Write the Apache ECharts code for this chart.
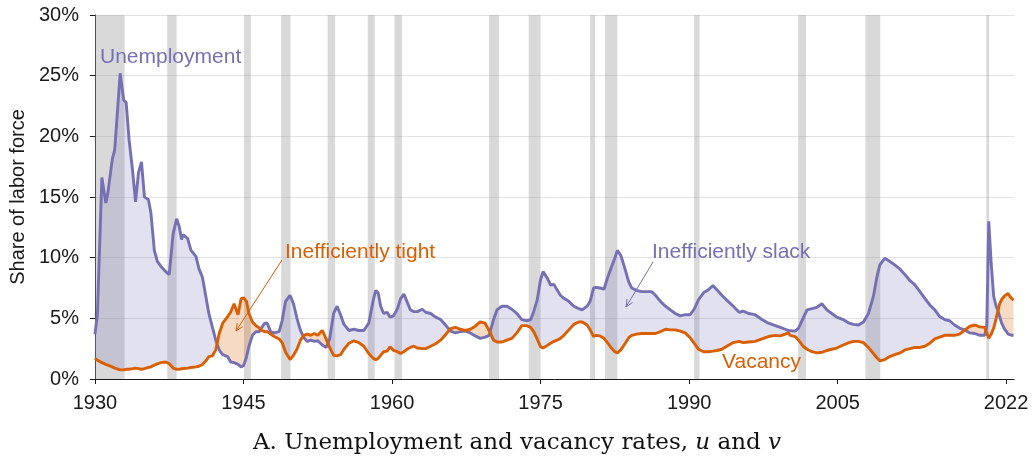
<!DOCTYPE html>
<html><head><meta charset="utf-8">
<script src="https://cdn.jsdelivr.net/npm/echarts@6/dist/echarts.min.js"></script>
<style>html,body{margin:0;padding:0;background:#fff}#c{width:1034px;height:465px}</style>
</head><body><div id="c"></div>
<script>
// ---- data ----
const years = [
1930.0,1930.25,1930.7,1931.1,1931.3,1931.75,1932.0,1932.55,1932.9,1933.15,1933.45,1933.8,1934.1,1934.4,1934.7,1935.0,1935.4,1935.65,1936.0,1936.3,1936.65,1937.15,1937.5,1937.9,1938.25,1938.5,1938.75,1938.9,1939.35,1939.7,
1940.2,1940.5,1940.85,1941.2,1941.5,1941.85,1942.2,1942.55,1942.9,1943.4,1943.7,1944.05,1944.25,1944.45,1944.75,1945.0,1945.3,1945.55,1945.9,1946.25,1946.6,1946.8,1947.15,1947.4,1947.75,1948.1,1948.6,1948.9,1949.25,1949.7,
1950.05,1950.4,1950.75,1951.1,1951.45,1951.8,1952.15,1952.5,1952.95,1953.35,1953.7,1954.1,1954.45,1954.8,1955.15,1955.65,1956.15,1956.65,1957.15,1957.65,1958.1,1958.35,1958.6,1958.85,1959.15,1959.5,1959.8,
1960.15,1960.55,1960.85,1961.2,1961.5,1961.85,1962.2,1962.55,1963.05,1963.4,1963.9,1964.4,1964.9,1965.4,1965.9,1966.4,1966.9,1967.4,1967.9,1968.4,1968.9,1969.4,1969.8,
1970.25,1970.6,1971.1,1971.6,1972.1,1972.6,1973.1,1973.6,1974.0,1974.3,1974.65,1975.0,1975.25,1975.65,1976.0,1976.35,1976.65,1977.0,1977.35,1977.85,1978.35,1978.85,1979.2,1979.7,
1980.0,1980.35,1980.6,1981.0,1981.4,1981.7,1982.1,1982.5,1982.75,1983.1,1983.55,1983.9,1984.2,1984.7,1985.2,1985.7,1986.2,1986.6,1987.1,1987.6,1988.1,1988.6,1989.1,1989.6,
1990.1,1990.5,1990.95,1991.45,1991.95,1992.4,1992.8,1993.3,1993.8,1994.45,1995.05,1995.45,1996.0,1996.65,1997.35,1998.0,1998.7,1999.2,1999.7,
2000.0,2000.2,2000.7,2001.05,2001.5,2001.9,2002.4,2002.9,2003.4,2003.9,2004.4,2004.9,2005.55,2006.15,2006.6,2007.1,2007.6,2008.1,2008.6,2008.95,2009.25,2009.75,
2010.25,2010.75,2011.3,2011.8,2012.3,2012.8,2013.3,2013.8,2014.3,2014.8,2015.3,2015.8,2016.3,2016.8,2017.3,2017.8,2018.35,2018.85,2019.35,2019.85,
2020.05,2020.25,2020.5,2020.75,2021.0,2021.2,2021.35,2021.55,2021.7,2021.85,2022.05,2022.2,2022.4,2022.6,2022.75
];
const unemployment = [
3.7,5.3,16.6,14.5,15.3,18.1,18.9,25.2,23.0,22.8,19.7,17.2,14.6,17.0,17.9,15.0,14.8,13.7,10.6,9.7,9.3,8.85,8.6,12.0,13.2,12.6,11.5,11.9,11.6,10.6,
10.1,9.1,8.4,6.8,5.4,4.3,3.2,2.4,2.0,1.85,1.4,1.35,1.3,1.2,1.0,1.1,1.8,2.7,3.6,3.9,3.9,4.2,4.6,4.6,3.9,3.8,3.9,4.8,6.4,6.9,
6.2,5.0,4.0,3.4,3.1,3.2,3.1,3.15,2.8,2.6,3.3,5.4,6.0,5.3,4.5,4.0,4.1,4.0,4.0,4.6,6.5,7.3,7.1,6.0,5.4,5.5,5.1,
5.2,5.8,6.6,7.0,6.4,5.7,5.55,5.55,5.75,5.5,5.4,5.1,4.9,4.45,3.95,3.8,3.9,3.95,3.8,3.55,3.35,3.45,3.6,
4.9,5.7,6.0,6.0,5.75,5.4,4.9,4.8,4.9,5.55,6.5,8.2,8.85,8.35,7.75,7.8,7.35,6.9,6.65,6.4,6.0,5.8,5.7,6.0,
6.4,7.5,7.55,7.5,7.4,8.2,9.1,10.0,10.6,10.2,9.0,8.0,7.5,7.3,7.2,7.2,7.2,6.9,6.4,6.0,5.7,5.4,5.2,5.3,
5.3,5.75,6.55,7.1,7.35,7.7,7.35,6.9,6.5,6.0,5.5,5.6,5.4,5.3,4.9,4.6,4.4,4.25,4.1,
4.0,3.95,3.95,4.2,5.0,5.7,5.8,5.9,6.2,5.7,5.4,5.1,4.9,4.6,4.5,4.45,4.7,5.4,6.8,8.4,9.4,9.95,
9.7,9.4,9.05,8.6,8.1,7.75,7.2,6.65,6.1,5.7,5.15,4.9,4.8,4.45,4.2,4.05,3.8,3.75,3.6,3.6,
4.4,13.0,9.5,6.8,6.0,5.6,5.15,4.6,4.45,4.1,3.9,3.7,3.6,3.6,3.6
];
const vacancy = [
1.7,1.55,1.35,1.2,1.15,1.0,0.9,0.75,0.75,0.8,0.8,0.85,0.9,0.85,0.8,0.85,0.95,1.0,1.15,1.25,1.35,1.4,1.25,0.9,0.8,0.8,0.85,0.9,0.9,0.95,
1.0,1.05,1.2,1.5,1.85,1.9,2.4,3.75,4.6,5.15,5.5,6.2,6.1,5.3,6.6,6.7,6.4,5.4,4.7,4.4,4.2,4.0,3.9,3.9,3.7,3.5,3.3,3.0,2.2,1.6,
1.95,2.45,3.2,3.6,3.7,3.6,3.75,3.6,4.0,3.3,2.6,1.95,1.9,2.0,2.45,2.95,3.15,3.0,2.7,2.1,1.7,1.6,1.7,1.95,2.25,2.3,2.65,
2.35,2.25,2.1,2.25,2.45,2.6,2.7,2.55,2.5,2.5,2.7,2.9,3.2,3.65,4.15,4.25,4.1,4.0,4.1,4.35,4.7,4.6,4.0,
3.2,3.05,3.05,3.2,3.35,3.8,4.4,4.4,4.25,3.9,3.3,2.65,2.55,2.75,2.95,3.1,3.2,3.35,3.6,4.05,4.5,4.7,4.7,4.45,
4.05,3.5,3.6,3.55,3.35,3.05,2.6,2.25,2.15,2.4,2.95,3.4,3.6,3.7,3.75,3.75,3.75,3.75,3.9,4.1,4.05,4.05,3.95,3.8,
3.4,2.95,2.45,2.25,2.25,2.3,2.35,2.45,2.7,3.0,3.1,3.0,3.05,3.1,3.3,3.5,3.6,3.55,3.7,
3.8,3.6,3.5,3.2,2.7,2.45,2.25,2.15,2.2,2.35,2.45,2.55,2.8,3.0,3.1,3.1,3.0,2.6,2.1,1.75,1.5,1.6,
1.85,2.0,2.15,2.4,2.5,2.6,2.6,2.7,2.95,3.3,3.45,3.6,3.6,3.6,3.7,4.0,4.35,4.45,4.3,4.25,
4.1,3.35,3.7,4.2,5.0,5.7,6.2,6.55,6.7,6.85,6.95,7.05,6.8,6.6,6.5
];
const recessions = [
[1930.0,1933.0],[1937.3,1938.25],[1945.05,1945.75],[1948.8,1949.75],[1953.5,1954.25],
[1957.55,1958.25],[1960.25,1961.0],[1969.8,1970.8],[1973.8,1975.0],[1980.0,1980.5],
[1981.5,1982.75],[1990.5,1991.05],[2001.0,2001.8],[2007.8,2009.3],[2020.0,2020.3]
];
const xTicks = [1930,1945,1960,1975,1990,2005,2022];
const yMin = 0, yMax = 30, yStep = 5;

// ---- styles ----
const PURPLE = '#7570b3', ORANGE = '#d95f02';
const SLACK_FILL = 'rgba(117,112,179,0.21)', TIGHT_FILL = 'rgba(217,95,2,0.23)';
const SANS = '"Liberation Sans", Arial, Helvetica, sans-serif';

const uPairs = years.map((y,i)=>[y, unemployment[i]]);
const vPairs = years.map((y,i)=>[y, vacancy[i]]);

// Build gap polygons between u and v (in data space), split at crossings.
function gapRegions(){
  const regions = [];
  let cur = null;
  for (let i = 0; i < years.length; i++) {
    const d = unemployment[i] - vacancy[i];
    const s = d >= 0 ? 1 : -1;
    if (i > 0) {
      const dp = unemployment[i-1] - vacancy[i-1];
      const sp = dp >= 0 ? 1 : -1;
      if (sp !== s) {
        const t = dp / (dp - d);
        const xc = years[i-1] + t*(years[i]-years[i-1]);
        const yc = unemployment[i-1] + t*(unemployment[i]-unemployment[i-1]);
        cur.upper.push([xc,yc]); cur.lower.push([xc,yc]);
        cur = {sign:s, upper:[[xc,yc]], lower:[[xc,yc]]};
        regions.push(cur);
      }
    }
    if (!cur) { cur = {sign:s, upper:[], lower:[]}; regions.push(cur); }
    cur.upper.push([years[i], unemployment[i]]);
    cur.lower.push([years[i], vacancy[i]]);
  }
  return regions;
}
const regions = gapRegions();

function arrow(x1,y1,x2,y2,color){
  const a = Math.atan2(y2-y1, x2-x1), L = 8, s = 0.42;
  return [
    {type:'line', silent:true, z:50, shape:{x1,y1,x2,y2}, style:{stroke:color, lineWidth:1}},
    {type:'polyline', silent:true, z:50, shape:{points:[
      [x2 - L*Math.cos(a-s), y2 - L*Math.sin(a-s)], [x2,y2], [x2 - L*Math.cos(a+s), y2 - L*Math.sin(a+s)]
    ]}, style:{stroke:color, lineWidth:1, fill:null}}
  ];
}

const chart = echarts.init(document.getElementById('c'), null, {renderer:'canvas'});
const option = {
  animation:false,
  backgroundColor:'#fff',
  grid:{left:94, right:20, top:15, bottom:86, containLabel:false},
  xAxis:{
    type:'value', min:1930, max:2022.8,
    axisLine:{show:true, onZero:false, lineStyle:{color:'#1a1a1a', width:1}},
    axisTick:{show:true, length:5, customValues:xTicks, lineStyle:{color:'#1a1a1a'}},
    axisLabel:{customValues:xTicks, margin:14, fontSize:20, color:'#1a1a1a', fontFamily:SANS, formatter:v=>String(v)},
    splitLine:{show:false}
  },
  yAxis:{
    type:'value', min:yMin, max:yMax, interval:yStep,
    name:'Share of labor force', nameLocation:'middle', nameGap:63, nameRotate:90,
    nameTextStyle:{fontSize:20, color:'#1a1a1a', fontFamily:SANS},
    axisLine:{show:true, lineStyle:{color:'#1a1a1a', width:1}},
    axisTick:{show:true, length:5, lineStyle:{color:'#1a1a1a'}},
    axisLabel:{margin:16, fontSize:20, color:'#1a1a1a', fontFamily:SANS, formatter:'{value}%'},
    splitLine:{show:true, lineStyle:{color:'#e2e2e2', width:1}}
  },
  series:[
    {name:'gap', type:'custom', silent:true, z:3,
     data:[[years[0], 0]],
     encode:{x:0, y:1},
     markArea:{silent:true, z:1, itemStyle:{color:'rgba(160,160,160,0.4)'},
       data: recessions.map(r=>[{xAxis:r[0]},{xAxis:r[1]}])},
     renderItem:function(params, api){
       const children = regions.map(r=>{
         const pts = r.upper.map(p=>api.coord(p)).concat(r.lower.slice().reverse().map(p=>api.coord(p)));
         return {type:'polygon', shape:{points:pts},
                 style:{fill: r.sign > 0 ? SLACK_FILL : TIGHT_FILL, stroke:null}};
       });
       return {type:'group', children};
     }},
    {name:'Unemployment', type:'line', data:uPairs, showSymbol:false, z:5,
     lineStyle:{color:PURPLE, width:2.9}},
    {name:'Vacancy', type:'line', data:vPairs, showSymbol:false, z:6,
     lineStyle:{color:ORANGE, width:2.9}}
  ],
  graphic:[
    {type:'text', z:50, style:{text:'Unemployment', x:100, y:57, fill:PURPLE, font:'21px '+SANS, verticalAlign:'middle'}},
    {type:'text', z:50, style:{text:'Inefficiently tight', x:285, y:252, fill:ORANGE, font:'21px '+SANS, verticalAlign:'middle'}},
    {type:'text', z:50, style:{text:'Inefficiently slack', x:652, y:252, fill:PURPLE, font:'21px '+SANS, verticalAlign:'middle'}},
    {type:'text', z:50, style:{text:'Vacancy', x:722, y:362, fill:ORANGE, font:'21px '+SANS, verticalAlign:'middle'}},
    ...arrow(282,260,236,331,ORANGE),
    ...arrow(653,262,626,307,PURPLE),
    {type:'text', z:50, style:{
      text:'{n|A. Unemployment and vacancy rates, }{i|u}{n| and }{i|v}',
      x:517, y:443, align:'center', verticalAlign:'middle',
      rich:{
        n:{fontFamily:'"DejaVu Serif", serif', fontSize:23, fill:'#111', color:'#111'},
        i:{fontFamily:'"DejaVu Serif", serif', fontSize:23, fontStyle:'italic', fill:'#111', color:'#111'}
      }}}
  ]
};
chart.setOption(option);
</script>
</body></html>
